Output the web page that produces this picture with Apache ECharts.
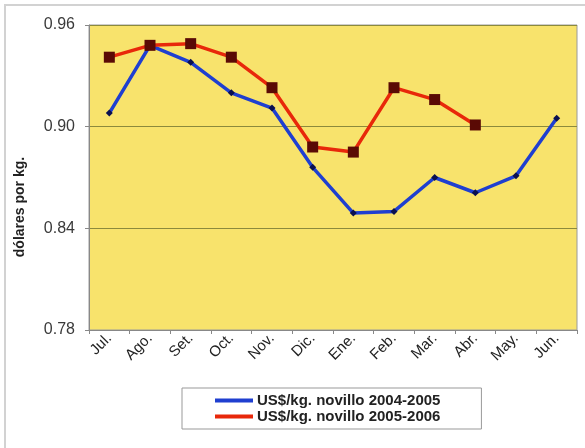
<!DOCTYPE html>
<html><head><meta charset="utf-8">
<script src="https://cdn.jsdelivr.net/npm/echarts@6/dist/echarts.min.js"></script>
<style>html,body{margin:0;padding:0;background:#fff}#c{width:585px;height:448px}</style>
</head><body><div id="c"></div>
<script>
const months = ['Jul.','Ago.','Set.','Oct.','Nov.','Dic.','Ene.','Feb.','Mar.','Abr.','May.','Jun.'];
const s2004 = [0.908,0.948,0.938,0.920,0.911,0.876,0.849,0.850,0.870,0.861,0.871,0.905];
const s2005 = [0.941,0.948,0.949,0.941,0.923,0.888,0.885,0.923,0.916,0.901,null,null];
const name2004 = 'US$/kg. novillo 2004-2005';
const name2005 = 'US$/kg. novillo 2005-2006';
const yTicks = [0.78,0.84,0.90,0.96];
const yName = 'dólares por kg.';

const chart = echarts.init(document.getElementById('c'));
chart.setOption({
  animation:false,
  backgroundColor:'#fff',
  graphic:[
    {type:'rect',shape:{x:5,y:5,width:600,height:460},style:{fill:'none',stroke:'#d2d2d2',lineWidth:2},z:-1},
    {type:'text',x:20,y:207,rotation:Math.PI/2,style:{text:yName,fontSize:14,fontWeight:'bold',fill:'#222',
      fontFamily:'Liberation Sans, Arial',align:'center',verticalAlign:'middle'}}
  ],
  grid:{left:89,right:8,top:25,bottom:118,show:true,backgroundColor:'#f8e36c',borderColor:'#9a9a9a',borderWidth:1},
  xAxis:{type:'category',data:months,boundaryGap:true,
    axisLine:{lineStyle:{color:'#888'}},axisTick:{show:true,length:4,lineStyle:{color:'#888'}},
    axisLabel:{rotate:45,fontSize:15,color:'#222',fontFamily:'Liberation Sans, Arial',margin:6,interval:0}},
  yAxis:{type:'value',min:0.78,max:0.96,interval:0.06,
    axisLine:{show:true,lineStyle:{color:'#888'}},axisTick:{show:true,length:4,lineStyle:{color:'#888'}},
    splitLine:{lineStyle:{color:'#8c8a3c',width:1}},
    axisLabel:{fontSize:16,color:'#3a3a3a',fontFamily:'Liberation Sans, Arial',margin:14,
      formatter:v=>{const t=yTicks.find(x=>Math.abs(x-v)<1e-6);return t!==undefined?t.toFixed(2):''}}},
  legend:{orient:'vertical',left:182,top:388,itemGap:1,padding:[5,41,5,33],
    borderColor:'#999',borderWidth:1,itemWidth:38,itemHeight:17,
    textStyle:{fontSize:15,fontWeight:'bold',color:'#222',fontFamily:'Liberation Sans, Arial',padding:[0,0,0,-1]},
    data:[
      {name:name2004,icon:'path://M0,7L38,7L38,11L0,11Z',itemStyle:{color:'#1f3fd0'}},
      {name:name2005,icon:'path://M0,7L38,7L38,11L0,11Z',itemStyle:{color:'#e8280a'}}]},
  series:[
    {name:name2004,type:'line',data:s2004,symbol:'diamond',symbolSize:7,
      lineStyle:{color:'#1f3fd0',width:3.5},itemStyle:{color:'#0a1050'}},
    {name:name2005,type:'line',data:s2005,symbol:'rect',symbolSize:11,
      lineStyle:{color:'#e8280a',width:3.5},itemStyle:{color:'#5a0a05'}}
  ]
});
</script></body></html>
